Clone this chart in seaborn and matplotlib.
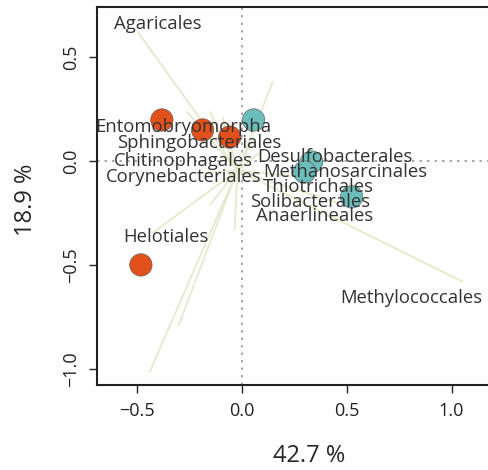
import numpy as np
import pandas as pd
import matplotlib
matplotlib.use("Agg")
import matplotlib.pyplot as plt
import seaborn as sns

# sample scores
site_x = [-0.38, -0.186, -0.057, -0.48, 0.057, 0.333, 0.30, 0.524]
site_y = [0.197, 0.149, 0.115, -0.50, 0.197, -0.005, -0.053, -0.173]
site_group = ["A", "A", "A", "A", "B", "B", "B", "B"]

# taxa vectors (end points)
vec_x = [-0.495, 0.148, 1.052, -0.438, -0.30, -0.424, -0.15, -0.033,
         -0.26, -0.15, -0.09, -0.20, 0.10, 0.30, 0.45, -0.12, 0.05]
vec_y = [0.62, 0.38, -0.58, -1.014, -0.79, -0.346, -0.21, -0.33,
         0.235, 0.235, 0.21, -0.06, 0.05, -0.08, -0.20, -0.12, 0.10]
vec_start = (-0.02, -0.045)

# taxa labels
lab_text = ["Agaricales", "Entomobryomorpha", "Sphingobacteriales", "Chitinophagales",
            "Corynebacteriales", "Desulfobacterales", "Methanosarcinales", "Thiotrichales",
            "Solibacterales", "Anaerlineales", "Helotiales", "Methylococcales"]
lab_x = [-0.40, -0.276, -0.20, -0.276, -0.276, 0.443, 0.495, 0.367, 0.324, 0.348, -0.362, 0.807]
lab_y = [0.659, 0.163, 0.087, 0.0, -0.077, 0.02, -0.053, -0.125, -0.197, -0.264, -0.365, -0.659]

sns.set_style("ticks")
plt.rcParams["font.family"] = ["Open Sans", "DejaVu Sans"]

fig = plt.figure(figsize=(4.89, 4.70), dpi=100)
ax = fig.add_axes([0.198, 0.181, 0.867, 0.804])

for ex, ey in zip(vec_x, vec_y):
    ax.plot([vec_start[0], ex], [vec_start[1], ey], color="#e4eacd", lw=1.3, zorder=1)

ax.axhline(0, color="#999999", ls=(0, (1.5, 3)), lw=1.2, zorder=0)
ax.axvline(0, color="#999999", ls=(0, (1.5, 3)), lw=1.2, zorder=0)

df = pd.DataFrame({"x": site_x, "y": site_y, "g": site_group})
sns.scatterplot(data=df, x="x", y="y", hue="g", palette={"A": "#e2501c", "B": "#6bbdba"},
                s=260, edgecolor="#666666", linewidth=0.5, legend=False, ax=ax, zorder=3)

for t, tx, ty in zip(lab_text, lab_x, lab_y):
    ax.text(tx, ty, t, ha="center", va="center", fontsize=13.3, color="#333333", zorder=4)

ax.set_xlim(-0.69, 1.33)
ax.set_ylim(-1.077, 0.74)
ax.set_xticks([-0.5, 0.0, 0.5, 1.0])
ax.set_xticklabels(["\u22120.5", "0.0", "0.5", "1.0"])
ax.set_yticks([-1.0, -0.5, 0.0, 0.5])
ax.set_yticklabels(["\u22121.0", "\u22120.5", "0.0", "0.5"], rotation=90, va="center")
ax.tick_params(length=6, width=1, labelsize=13, pad=6, colors="#222222")
for sp in ax.spines.values():
    sp.set_linewidth(1.5)
    sp.set_color("#222222")

ax.set_xlabel("42.7 %", fontsize=17)
ax.set_ylabel("18.9 %", fontsize=17)
ax.xaxis.set_label_coords(0.5, -0.155)
ax.yaxis.set_label_coords(-0.139, 0.489)

fig.savefig("out.png", dpi=100)
